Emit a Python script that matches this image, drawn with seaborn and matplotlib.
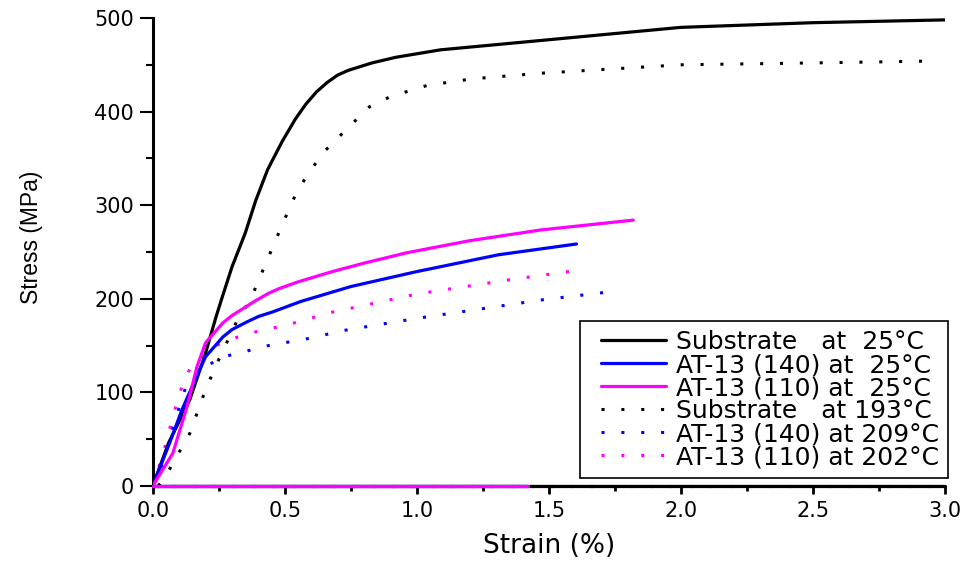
import matplotlib
matplotlib.use("Agg")
import matplotlib.pyplot as plt
from matplotlib import font_manager as fm
from matplotlib.lines import Line2D
from matplotlib.legend_handler import HandlerLine2D
from matplotlib.ticker import MultipleLocator, FormatStrFormatter
import seaborn as sns
import pandas as pd

# Stress-strain curves (strain in %, stress in MPa)
sub25_strain = [0, 0.06, 0.14, 0.20, 0.24, 0.26, 0.30, 0.35, 0.39, 0.435, 0.49, 0.54,
                0.58, 0.62, 0.66, 0.70, 0.74, 0.83, 0.92, 1.09, 1.47, 2.0, 2.5, 3.0]
sub25_stress = [0, 46, 92, 142, 181, 199, 234, 270, 305, 338, 368, 392,
                408, 421, 431, 439, 444, 452, 458, 466, 476, 490, 495, 498]

at140_25_strain = [0, 0.064, 0.11, 0.16, 0.20, 0.265, 0.30, 0.355, 0.40, 0.455, 0.56,
                   0.75, 1.0, 1.31, 1.605]
at140_25_stress = [0, 46, 81, 113, 138, 159, 167, 175, 181, 186, 197,
                   213, 229, 247, 258.5]

at110_25_strain = [0, 0.076, 0.13, 0.167, 0.20, 0.265, 0.30, 0.39, 0.44, 0.48, 0.55,
                   0.68, 0.80, 0.96, 1.2, 1.47, 1.82]
at110_25_stress = [0, 35, 85, 127, 153, 174, 182, 198, 206, 211, 218,
                   229, 238, 249, 262, 273.5, 284]

sub193_strain = [0.02, 0.04, 0.076, 0.14, 0.20, 0.25, 0.32, 0.37, 0.46, 0.53, 0.58, 0.645,
                 0.73, 0.82, 0.90, 1.04, 1.21, 1.47, 2.0, 2.5, 2.95]
sub193_stress = [0, 6, 24, 56, 103, 135, 177, 199, 259, 305, 330, 356,
                 380, 405, 416, 428, 435, 441, 450, 452, 454]

at140_209_strain = [0, 0.04, 0.076, 0.13, 0.20, 0.25, 0.33, 0.42, 0.52, 0.62, 0.70,
                    1.0, 1.48, 1.75]
at140_209_stress = [0, 25, 63, 110, 126, 137, 142, 149, 154, 159, 165,
                    179, 199, 208]

at110_202_strain = [0, 0.04, 0.076, 0.11, 0.14, 0.24, 0.33, 0.38, 0.51, 0.67, 1.0,
                    1.345, 1.60]
at110_202_stress = [0, 35, 74, 106, 125, 150, 160, 164, 172, 185, 205,
                    220, 230]

labels = [
    "Substrate   at  25°C",
    "AT-13 (140) at  25°C",
    "AT-13 (110) at  25°C",
    "Substrate   at 193°C",
    "AT-13 (140) at 209°C",
    "AT-13 (110) at 202°C",
]
# strain up to which each record continues at zero stress after fracture
baseline_end = [3.0, 1.42, 1.42, 3.0, 3.0, 1.75]

colors = ["black", "#0000ff", "#ff00ff", "black", "#0000ff", "#ff00ff"]
solid = [True, True, True, False, False, False]

curves = [
    (sub25_strain, sub25_stress),
    (at140_25_strain, at140_25_stress),
    (at110_25_strain, at110_25_stress),
    (sub193_strain, sub193_stress),
    (at140_209_strain, at140_209_stress),
    (at110_202_strain, at110_202_stress),
]

sns.set_theme(style="ticks")
plt.rcParams["font.family"] = ["DejaVu Sans"]
plt.rcParams["text.color"] = "black"
plt.rcParams["axes.labelcolor"] = "black"
plt.rcParams["xtick.color"] = "black"
plt.rcParams["ytick.color"] = "black"

# condensed face for the vertical axis title
try:
    fm.findfont("Liberation Sans Narrow", fallback_to_default=False)
    ylab_family, ylab_size = "Liberation Sans Narrow", 21
except ValueError:
    ylab_family, ylab_size = "Liberation Sans", 16.5

fig = plt.figure(figsize=(9.67, 5.63), dpi=100)
ax = fig.add_axes([0.158, 0.137, 0.819, 0.831])

dot_style = (0, (1, 5.5))
draw_order = [3, 4, 5, 0, 1, 2]
for i in draw_order:
    x, y = curves[i]
    df = pd.DataFrame({"strain": x, "stress": y})
    kw = dict(color=colors[i], lw=2.3 if solid[i] else 2.2,
              linestyle="-" if solid[i] else dot_style)
    sns.lineplot(data=df, x="strain", y="stress", ax=ax, sort=False,
                 estimator=None, label=labels[i], zorder=3 + (1 if solid[i] else 0), **kw)
    base = pd.DataFrame({"strain": [0, baseline_end[i]], "stress": [0, 0]})
    sns.lineplot(data=base, x="strain", y="stress", ax=ax, sort=False, estimator=None,
                 legend=False, clip_on=False, zorder=2 + (1 if solid[i] else 0), **kw)

ax.set_xlim(0, 3.0)
ax.set_ylim(0, 500)
ax.xaxis.set_major_locator(MultipleLocator(0.5))
ax.xaxis.set_minor_locator(MultipleLocator(0.25))
ax.yaxis.set_major_locator(MultipleLocator(100))
ax.yaxis.set_minor_locator(MultipleLocator(50))
ax.xaxis.set_major_formatter(FormatStrFormatter("%.1f"))

for side in ["top", "right"]:
    ax.spines[side].set_visible(False)
ax.spines["left"].set_linewidth(2.2)
ax.spines["bottom"].set_linewidth(1.5)
for side in ["left", "bottom"]:
    ax.spines[side].set_color("black")

ax.tick_params(axis="y", which="major", direction="out", length=9.5, width=1.5,
               labelsize=15, colors="black", pad=4)
ax.tick_params(axis="y", which="minor", direction="out", length=5, width=1.5, colors="black")
ax.tick_params(axis="x", which="major", direction="out", length=6, width=2.0,
               labelsize=15, colors="black", pad=5)
ax.tick_params(axis="x", which="minor", direction="out", length=3.5, width=2.0, colors="black")

ax.set_xlabel("Strain (%)", fontsize=19, color="black")
ax.xaxis.set_label_coords(0.5, -0.100)
ax.set_ylabel("Stress (MPa)", fontsize=ylab_size, family=ylab_family, color="black")
ax.yaxis.set_label_coords(-0.138, 0.532)

handles, labs = ax.get_legend_handles_labels()
order = [labs.index(l) for l in labels]
leg = ax.legend([handles[k] for k in order], [labs[k] for k in order],
                loc="lower right", bbox_to_anchor=(0.980, 0.151),
                bbox_transform=fig.transFigure, fontsize=18, frameon=True,
                fancybox=False, edgecolor="black", framealpha=1,
                handlelength=3.1, handletextpad=0.4, labelspacing=-0.04,
                borderpad=0.35, borderaxespad=0,
                handler_map={Line2D: HandlerLine2D(xpad=0.5)})
leg.get_frame().set_linewidth(1.2)
for t in leg.get_texts():
    t.set_color("black")

fig.savefig("out.png", dpi=100)
